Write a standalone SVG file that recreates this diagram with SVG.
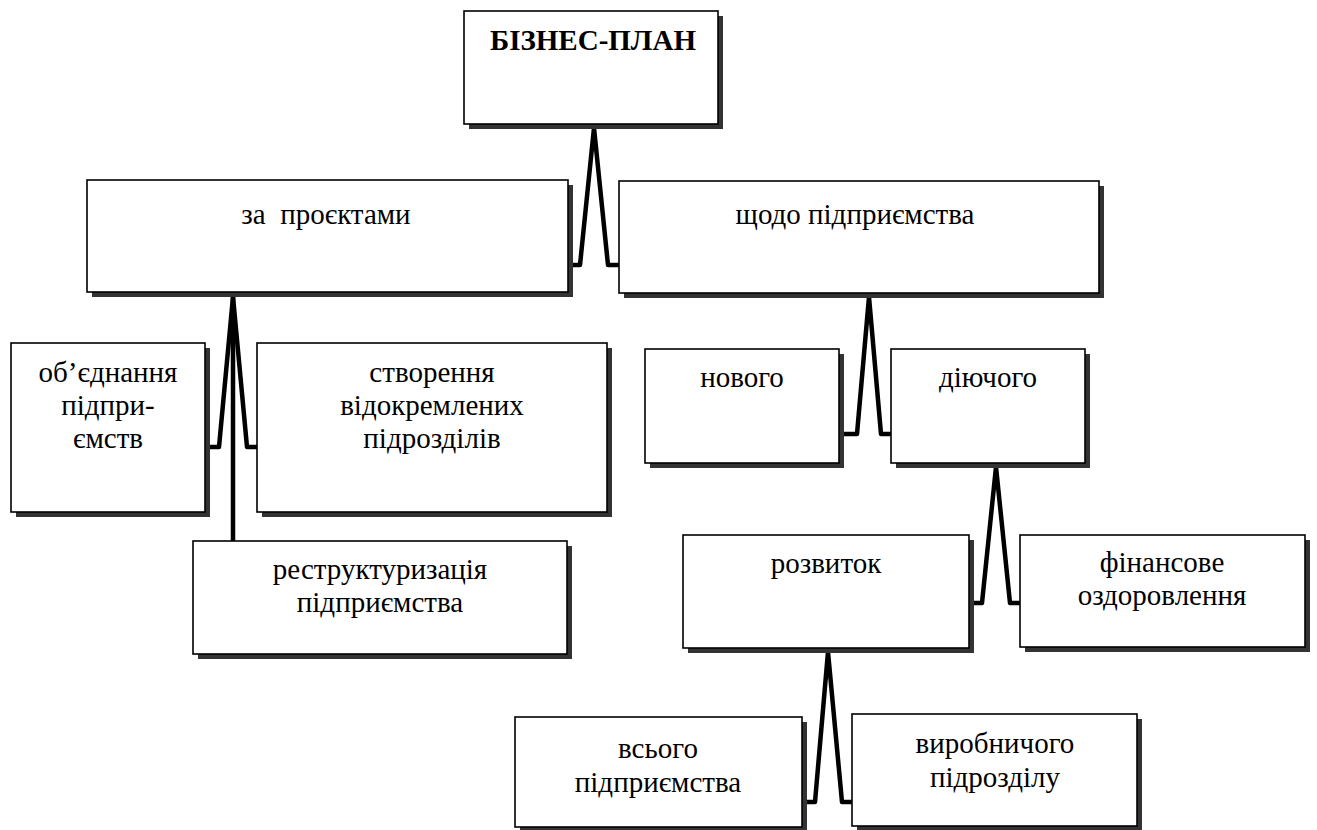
<svg xmlns="http://www.w3.org/2000/svg" width="1317" height="830" viewBox="0 0 1317 830">
  <!-- tent-shaped connectors between levels -->
  <g id="connectors" fill="none" stroke="#000000" stroke-width="4.5" stroke-linejoin="round">
    <polyline points="572,265 580,265 594,128 608,265 620,265"/>
    <polyline points="210,447 219,447 233,297 247,447 258,447"/>
    <line x1="233" y1="297" x2="233" y2="542"/>
    <polyline points="844,434 857,434 869,297 881,434 892,434"/>
    <polyline points="974,603 982,603 996,467 1010,603 1021,603"/>
    <polyline points="807,802 815,802 828,652 842,802 853,802"/>
  </g>

  <!-- each node: dark shadow offset by 5px, then white framed box and centred label -->
  <g id="nodes" font-size="29" text-anchor="middle">
  <g id="business-plan">
    <rect x="469" y="16" width="254" height="113" fill="#333333"/>
    <rect x="464" y="11" width="254" height="113" fill="#ffffff" stroke="#000000" stroke-width="1.6"/>
    <text font-family="Liberation Serif" font-weight="bold" x="593" y="50">БІЗНЕС-ПЛАН</text>
  </g>

  <g id="by-projects">
    <rect x="92" y="185" width="481" height="112" fill="#333333"/>
    <rect x="87" y="180" width="481" height="112" fill="#ffffff" stroke="#000000" stroke-width="1.6"/>
    <text font-family="Liberation Serif" x="326" y="224">за&#160; проєктами</text>
  </g>

  <g id="for-enterprise">
    <rect x="624" y="186" width="480" height="112" fill="#333333"/>
    <rect x="619" y="181" width="480" height="112" fill="#ffffff" stroke="#000000" stroke-width="1.6"/>
    <text font-family="Liberation Serif" x="855" y="224">щодо підприємства</text>
  </g>

  <g id="merger">
    <rect x="16" y="348" width="194" height="169" fill="#333333"/>
    <rect x="11" y="343" width="194" height="169" fill="#ffffff" stroke="#000000" stroke-width="1.6"/>
    <text font-family="Liberation Serif" x="108" y="382">об’єднання</text>
    <text font-family="Liberation Serif" x="108" y="415">підпри-</text>
    <text font-family="Liberation Serif" x="108" y="448">ємств</text>
  </g>

  <g id="subdivisions">
    <rect x="262" y="348" width="350" height="169" fill="#333333"/>
    <rect x="257" y="343" width="350" height="169" fill="#ffffff" stroke="#000000" stroke-width="1.6"/>
    <text font-family="Liberation Serif" x="432" y="382">створення</text>
    <text font-family="Liberation Serif" x="432" y="415">відокремлених</text>
    <text font-family="Liberation Serif" x="432" y="448">підрозділів</text>
  </g>

  <g id="restructuring">
    <rect x="198" y="546" width="374" height="113" fill="#333333"/>
    <rect x="193" y="541" width="374" height="113" fill="#ffffff" stroke="#000000" stroke-width="1.6"/>
    <text font-family="Liberation Serif" x="380" y="579">реструктуризація</text>
    <text font-family="Liberation Serif" x="380" y="612">підприємства</text>
  </g>

  <g id="new">
    <rect x="650" y="354" width="194" height="114" fill="#333333"/>
    <rect x="645" y="349" width="194" height="114" fill="#ffffff" stroke="#000000" stroke-width="1.6"/>
    <text font-family="Liberation Serif" x="742" y="387">нового</text>
  </g>

  <g id="existing">
    <rect x="896" y="354" width="194" height="114" fill="#333333"/>
    <rect x="891" y="349" width="194" height="114" fill="#ffffff" stroke="#000000" stroke-width="1.6"/>
    <text font-family="Liberation Serif" x="988" y="387">діючого</text>
  </g>

  <g id="development">
    <rect x="688" y="540" width="286" height="113" fill="#333333"/>
    <rect x="683" y="535" width="286" height="113" fill="#ffffff" stroke="#000000" stroke-width="1.6"/>
    <text font-family="Liberation Serif" x="826" y="573">розвиток</text>
  </g>

  <g id="financial-recovery">
    <rect x="1025" y="540" width="285" height="112" fill="#333333"/>
    <rect x="1020" y="535" width="285" height="112" fill="#ffffff" stroke="#000000" stroke-width="1.6"/>
    <text font-family="Liberation Serif" x="1162" y="572">фінансове</text>
    <text font-family="Liberation Serif" x="1162" y="605">оздоровлення</text>
  </g>

  <g id="whole-enterprise">
    <rect x="520" y="722" width="287" height="110" fill="#333333"/>
    <rect x="515" y="717" width="287" height="110" fill="#ffffff" stroke="#000000" stroke-width="1.6"/>
    <text font-family="Liberation Serif" x="658" y="758">всього</text>
    <text font-family="Liberation Serif" x="658" y="792">підприємства</text>
  </g>

  <g id="production-unit">
    <rect x="857" y="719" width="285" height="112" fill="#333333"/>
    <rect x="852" y="714" width="285" height="112" fill="#ffffff" stroke="#000000" stroke-width="1.6"/>
    <text font-family="Liberation Serif" x="995" y="753">виробничого</text>
    <text font-family="Liberation Serif" x="995" y="787">підрозділу</text>
  </g>
  </g>
</svg>
